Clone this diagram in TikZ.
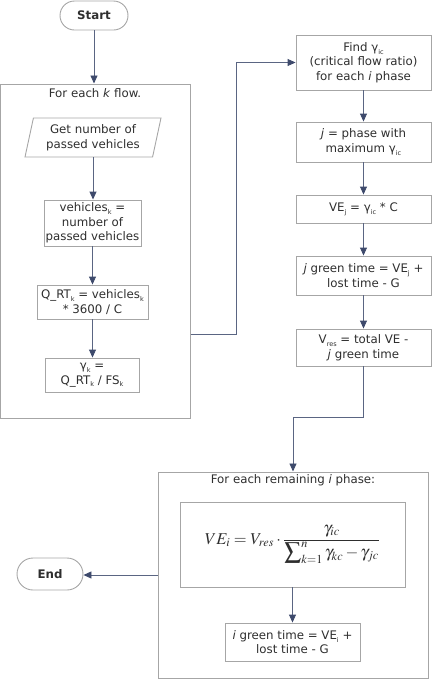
\documentclass[tikz,border=0pt]{standalone}
\usepackage{mathptmx}
\usepackage{fontspec}
\setmainfont{DejaVu Sans}
\usetikzlibrary{arrows.meta,shapes.geometric,shapes.misc,calc}
\definecolor{boxgray}{HTML}{A6A6A6}
\definecolor{linecol}{HTML}{5A6582}
\definecolor{tipcol}{HTML}{3E4A6C}
\definecolor{txt}{HTML}{2E2E2E}
\newcommand\sbs[1]{\raisebox{-0.45ex}{\fontsize{6.5}{7}\selectfont #1}}
\tikzset{
 every node/.style={font=\fontsize{11.8}{14.5}\selectfont, text=txt},
 procbox/.style={draw=boxgray, line width=0.9pt, rectangle, align=center, inner sep=0pt},
 groupbox/.style={draw=boxgray, line width=1pt, rectangle, inner sep=0pt},
 terminal/.style={draw=boxgray, line width=0.9pt, rounded rectangle, inner sep=0pt, font=\fontsize{11.8}{14}\selectfont\bfseries},
 iobox/.style={draw=boxgray, line width=0.9pt, trapezium, trapezium left angle=72, trapezium right angle=108, trapezium stretches body, align=center, inner sep=0pt},
 flow/.style={draw=linecol, line width=0.9pt, -{Triangle[length=8pt,width=7pt,color=tipcol]}},
}
\begin{document}
\begin{tikzpicture}[x=1pt,y=-1pt]
\useasboundingbox (0,0) rectangle (435,689);
% left column
\node[terminal, minimum width=68pt, minimum height=29pt] (start) at (94,15.5) {Start};
\node[groupbox, minimum width=189.5pt, minimum height=334pt] (loopk) at (95.25,251) {};
\node (loopktitle) at (95,93) {For each \textit{k} flow.};
\node[iobox, minimum width=136pt, minimum height=39pt] (get) at (93,137.5) {Get number of\\passed vehicles};
\node[procbox, minimum width=97pt, minimum height=46pt] (veh) at (92.5,223) {vehicles\sbs{k} =\\number of\\passed vehicles};
\node[procbox, minimum width=111pt, minimum height=34pt] (qrt) at (92.5,302) {Q\_RT\sbs{k} = vehicles\sbs{k}\\* 3600 / C};
\node[procbox, minimum width=94pt, minimum height=34pt] (gam) at (92,375) {γ\sbs{k} =\\Q\_RT\sbs{k} / FS\sbs{k}};
% right column
\node[procbox, minimum width=135pt, minimum height=55pt] (find) at (363.5,62.5) {Find γ\sbs{ic}\\(critical flow ratio)\\for each \textit{i} phase};
\node[procbox, minimum width=135pt, minimum height=40pt] (jmax) at (363.5,142) {\textit{j} = phase with\\maximum γ\sbs{ic}};
\node[procbox, minimum width=135pt, minimum height=28pt] (vej) at (363.5,209) {VE\sbs{j} = γ\sbs{ic} * C};
\node[procbox, minimum width=135pt, minimum height=39pt] (jgreen) at (363.5,275.5) {\textit{j} green time = VE\sbs{j} +\\lost time - G};
\node[procbox, minimum width=135pt, minimum height=37pt] (vres) at (363.5,347.5) {V\sbs{res} = total VE -\\\textit{j} green time};
% bottom
\node[groupbox, minimum width=270pt, minimum height=206pt] (loopi) at (293,575) {};
\node (loopititle) at (293,480) {For each remaining \textit{i} phase:};
\node[procbox, minimum width=225pt, minimum height=85pt, font=\fontsize{16.5}{20}\selectfont] (formula) at (292.5,544.5) {$\displaystyle VE_i = V_{res}\cdot\frac{\gamma_{ic}}{\displaystyle\sum\nolimits_{k=1}^{n}\gamma_{kc}-\gamma_{jc}}$};
\node[procbox, minimum width=135pt, minimum height=38pt] (igreen) at (292.5,642) {\textit{i} green time = VE\sbs{i} +\\lost time - G};
\node[terminal, minimum width=66pt, minimum height=32pt] (endnode) at (50,574) {End};
% connectors
\draw[flow] (start.south) -- (start.south |- loopk.north);
\draw[flow] (get.south) -- (get.south |- veh.north);
\draw[flow] (veh.south) -- (veh.south |- qrt.north);
\draw[flow] (qrt.south) -- (qrt.south |- gam.north);
\draw[flow] ($(loopk.south east)!0.25!(loopk.north east)$) -- ++(46,0) |- (find.west);
\draw[flow] (find.south) -- (jmax.north);
\draw[flow] (jmax.south) -- (vej.north);
\draw[flow] (vej.south) -- (jgreen.north);
\draw[flow] (jgreen.south) -- (vres.north);
\draw[flow] (vres.south) -- ++(0,51) -| (loopi.north);
\draw[flow] (formula.south) -- (igreen.north);
\draw[flow] (loopi.west) -- (loopi.west -| endnode.east);
\end{tikzpicture}
\end{document}
